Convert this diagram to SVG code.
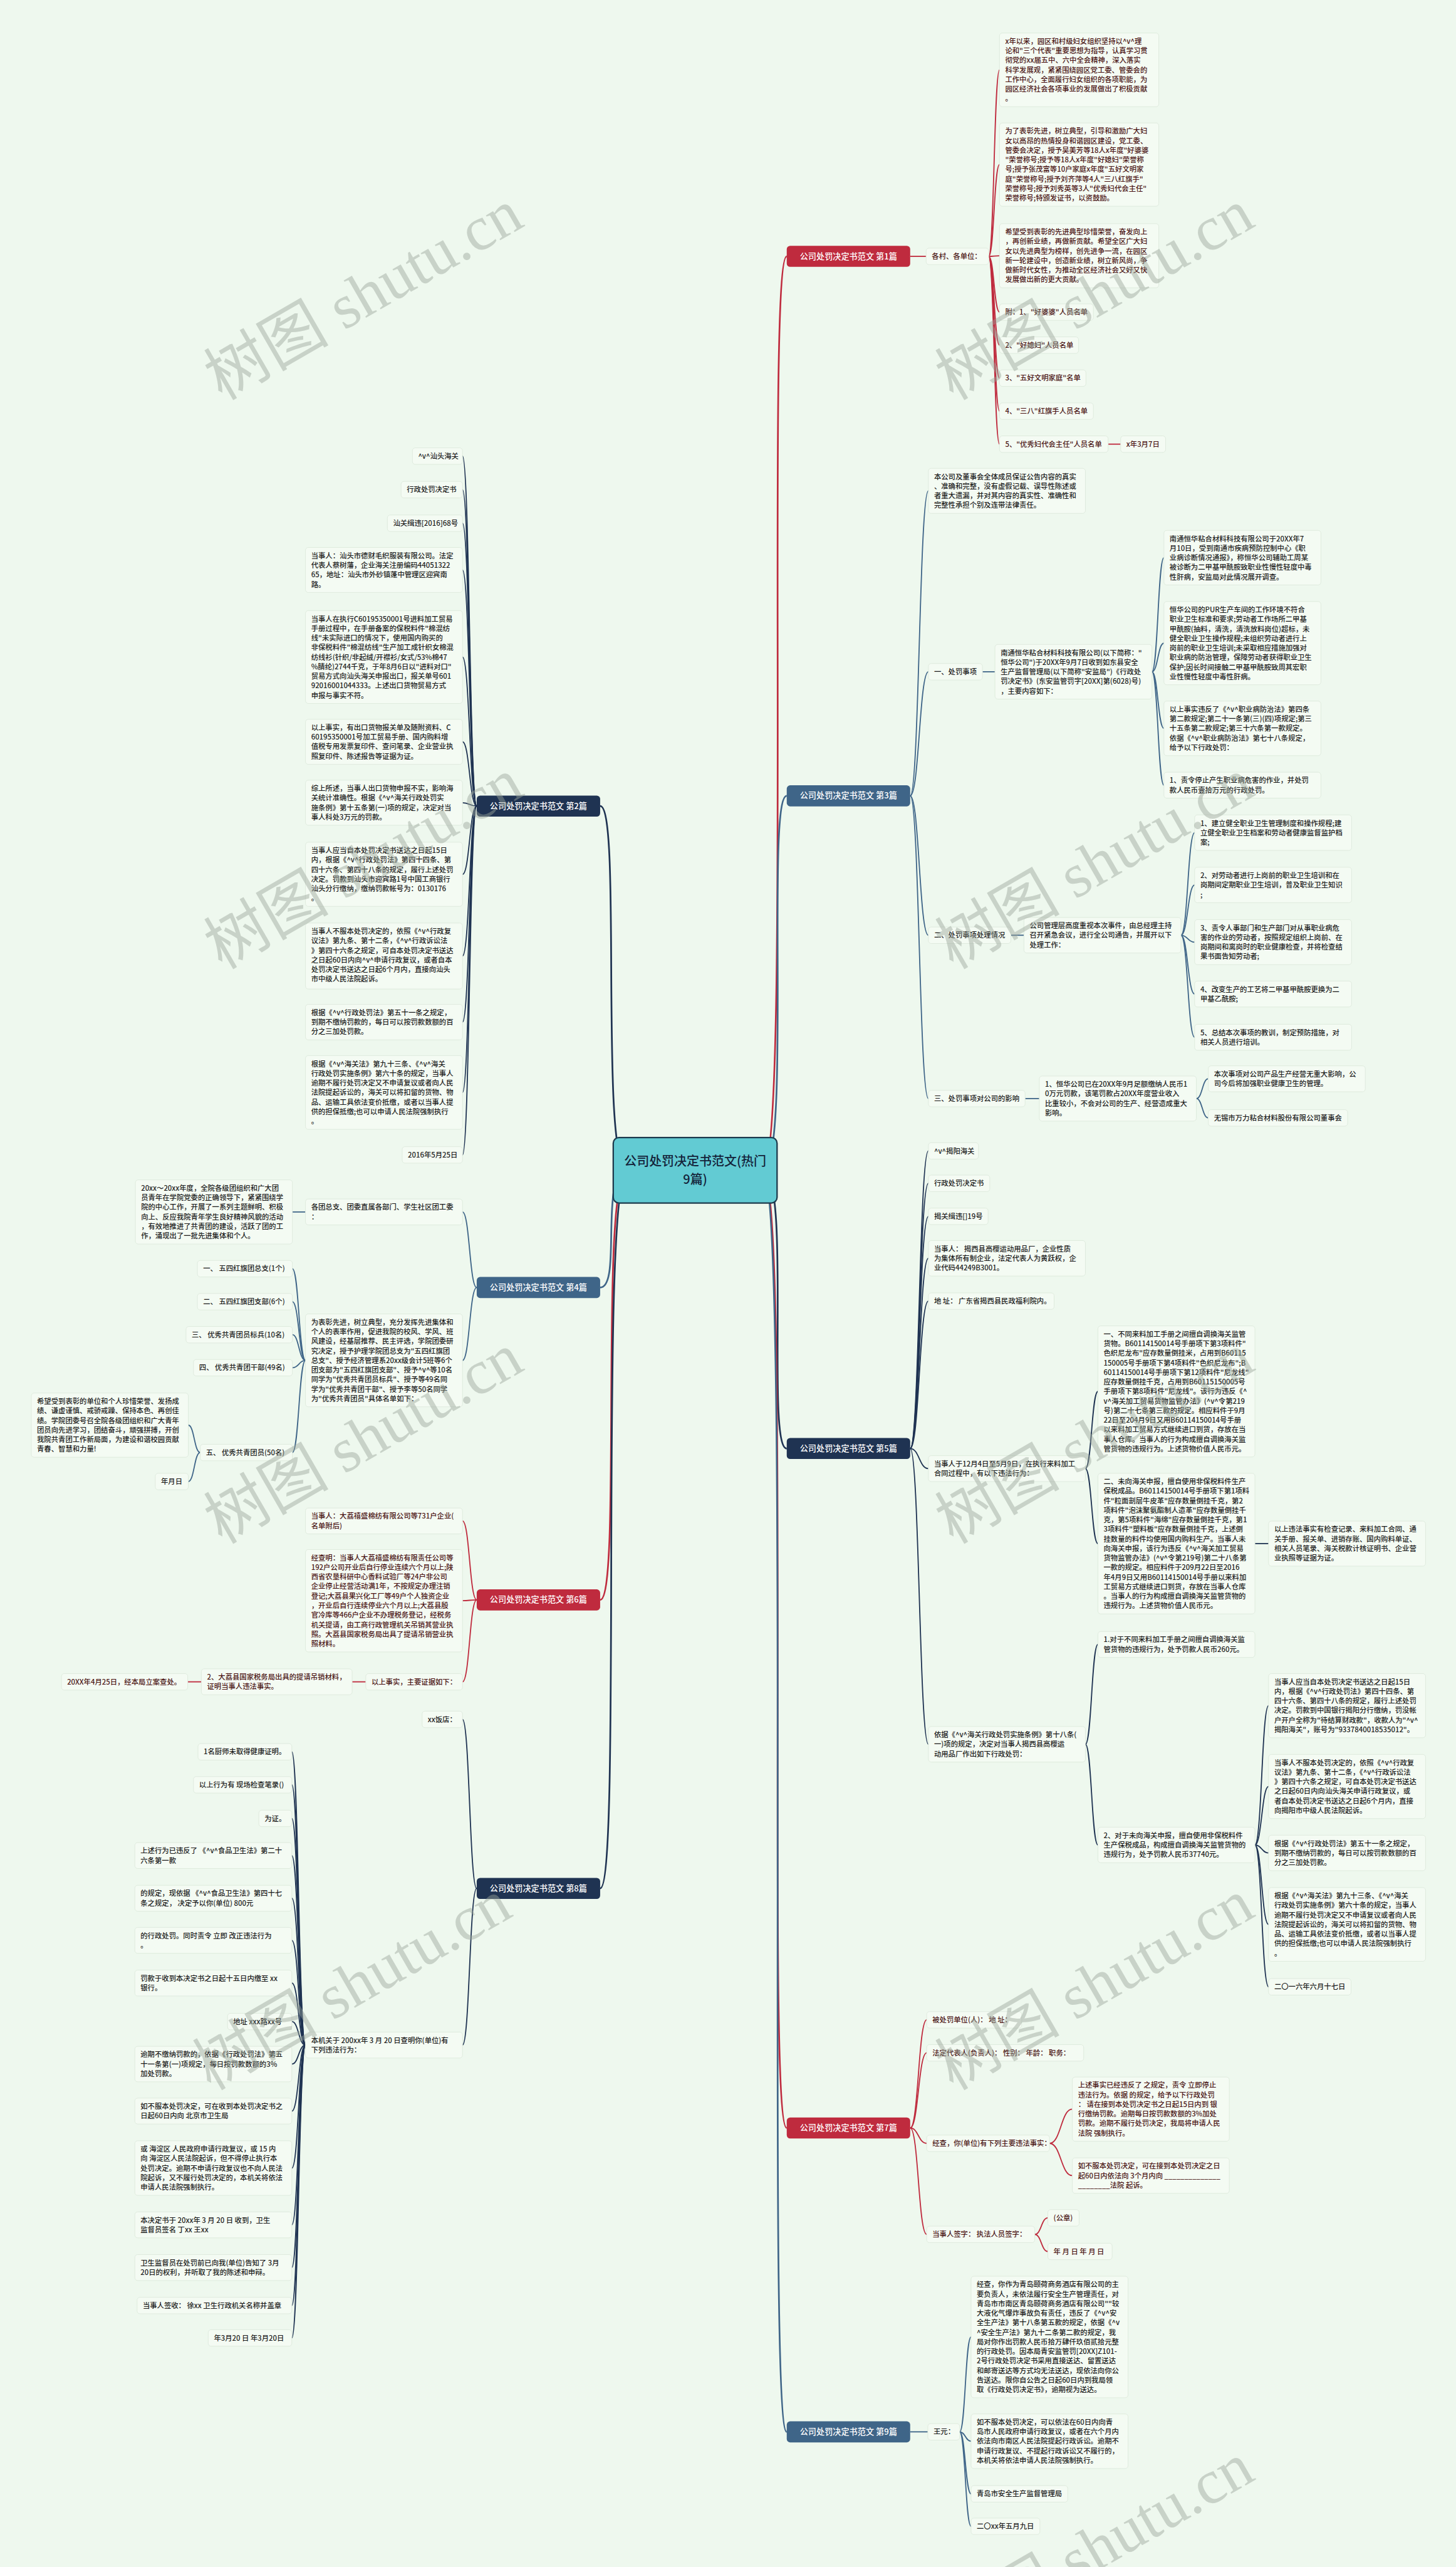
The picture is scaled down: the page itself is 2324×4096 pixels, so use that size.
<svg xmlns="http://www.w3.org/2000/svg" width="2324" height="4096" viewBox="0 0 2324 4096">
<style>
text{font-family:"Noto Sans CJK SC","Noto Sans",sans-serif}
.bx{fill:#f4fbf3;stroke:#dde9dc;stroke-width:1}
.t{font-size:12.5px;fill:#1c1c1c;font-weight:500}
.r{fill:#4a1414}
.bn{font-size:14.5px;fill:#ffffff;text-anchor:middle;font-weight:500}
.ct{font-size:22px;fill:#14233a;text-anchor:middle;font-weight:500}
.nr{fill:#bf2b3e}.nn{fill:#1f3352}.ns{fill:#3f6588}
.c path{fill:none;stroke-width:2}
.c .m{stroke-width:3}
.cr{stroke:#bf2b3e}.cn{stroke:#1f3352}.cs{stroke:#3f6588}
.wm{font-family:"Liberation Serif","Noto Sans CJK SC",serif;font-size:110px;fill:#9aa49a;fill-opacity:0.45;text-anchor:middle}
</style>
<rect width="2324" height="4096" fill="#eef8ee"/>
<g transform="scale(0.908)">
<g id="connectors" class="c">
<path class="m cr" d="M1340 2056.5C1392 2056.5 1346 450.5 1383 450.5"/>
<path class="m cs" d="M1340 2056.5C1392 2056.5 1346 1398.5 1383 1398.5"/>
<path class="m cn" d="M1340 2056.5C1392 2056.5 1346 2545.5 1383 2545.5"/>
<path class="m cr" d="M1340 2056.5C1392 2056.5 1346 3739.5 1383 3739.5"/>
<path class="m cs" d="M1340 2056.5C1392 2056.5 1346 4273.5 1383 4273.5"/>
<path class="m cn" d="M1104 2056.5C1052 2056.5 1094 1416.5 1055 1416.5"/>
<path class="m cs" d="M1104 2056.5C1052 2056.5 1094 2262.5 1055 2262.5"/>
<path class="m cr" d="M1104 2056.5C1052 2056.5 1094 2811.5 1055 2811.5"/>
<path class="m cn" d="M1104 2056.5C1052 2056.5 1094 3318.5 1055 3318.5"/>
<path class="cr" d="M1600 450.5L1628 450.5"/>
<path class="cr" d="M1738 450.5C1747.5 450.5 1747.5 122.8 1757 122.8"/>
<path class="cr" d="M1738 450.5C1747.5 450.5 1747.5 289.2 1757 289.2"/>
<path class="cr" d="M1738 450.5C1747.5 450.5 1747.5 449.4 1757 449.4"/>
<path class="cr" d="M1738 450.5C1747.5 450.5 1747.5 548.5 1757 548.5"/>
<path class="cr" d="M1738 450.5C1747.5 450.5 1747.5 606.5 1757 606.5"/>
<path class="cr" d="M1738 450.5C1747.5 450.5 1747.5 664.5 1757 664.5"/>
<path class="cr" d="M1738 450.5C1747.5 450.5 1747.5 722.5 1757 722.5"/>
<path class="cr" d="M1738 450.5C1747.5 450.5 1747.5 780.5 1757 780.5"/>
<path class="cr" d="M1948 780.5L1970 780.5"/>
<path class="cs" d="M1600 1398.5C1616 1398.5 1616 862.6 1632 862.6"/>
<path class="cs" d="M1600 1398.5C1616 1398.5 1616 1180.5 1632 1180.5"/>
<path class="cs" d="M1600 1398.5C1616 1398.5 1616 1643.5 1632 1643.5"/>
<path class="cs" d="M1600 1398.5C1616 1398.5 1616 1930.5 1632 1930.5"/>
<path class="cs" d="M1727 1180.5L1749 1180.5"/>
<path class="cs" d="M2025 1180.5C2035.5 1180.5 2035.5 980 2046 980"/>
<path class="cs" d="M2025 1180.5C2035.5 1180.5 2035.5 1130.2 2046 1130.2"/>
<path class="cs" d="M2025 1180.5C2035.5 1180.5 2035.5 1280 2046 1280"/>
<path class="cs" d="M2025 1180.5C2035.5 1180.5 2035.5 1379.8 2046 1379.8"/>
<path class="cs" d="M1777 1643.5L1800 1643.5"/>
<path class="cs" d="M2076 1643.5C2088 1643.5 2088 1463.2 2100 1463.2"/>
<path class="cs" d="M2076 1643.5C2088 1643.5 2088 1555.2 2100 1555.2"/>
<path class="cs" d="M2076 1643.5C2088 1643.5 2088 1655.6 2100 1655.6"/>
<path class="cs" d="M2076 1643.5C2088 1643.5 2088 1746.8 2100 1746.8"/>
<path class="cs" d="M2076 1643.5C2088 1643.5 2088 1822.8 2100 1822.8"/>
<path class="cs" d="M1802 1930.5L1827 1930.5"/>
<path class="cs" d="M2103 1930.5C2113.5 1930.5 2113.5 1895.8 2124 1895.8"/>
<path class="cs" d="M2103 1930.5C2113.5 1930.5 2113.5 1964.5 2124 1964.5"/>
<path class="cn" d="M1600 2545.5C1616 2545.5 1616 2022.5 1632 2022.5"/>
<path class="cn" d="M1600 2545.5C1616 2545.5 1616 2079.5 1632 2079.5"/>
<path class="cn" d="M1600 2545.5C1616 2545.5 1616 2137.5 1632 2137.5"/>
<path class="cn" d="M1600 2545.5C1616 2545.5 1616 2211.2 1632 2211.2"/>
<path class="cn" d="M1600 2545.5C1616 2545.5 1616 2286.5 1632 2286.5"/>
<path class="cn" d="M1600 2545.5C1616 2545.5 1616 2580.8 1632 2580.8"/>
<path class="cn" d="M1600 2545.5C1616 2545.5 1616 3065.2 1632 3065.2"/>
<path class="cn" d="M1908 2580.8C1919 2580.8 1919 2445.2 1930 2445.2"/>
<path class="cn" d="M1908 2580.8C1919 2580.8 1919 2712.6 1930 2712.6"/>
<path class="cn" d="M2206 2712.6L2230 2712.6"/>
<path class="cn" d="M1908 3065.2C1919 3065.2 1919 2889.8 1930 2889.8"/>
<path class="cn" d="M1908 3065.2C1919 3065.2 1919 3242.2 1930 3242.2"/>
<path class="cn" d="M2206 3242.2C2218 3242.2 2218 2997.4 2230 2997.4"/>
<path class="cn" d="M2206 3242.2C2218 3242.2 2218 3139.4 2230 3139.4"/>
<path class="cn" d="M2206 3242.2C2218 3242.2 2218 3256.2 2230 3256.2"/>
<path class="cn" d="M2206 3242.2C2218 3242.2 2218 3381.8 2230 3381.8"/>
<path class="cn" d="M2206 3242.2C2218 3242.2 2218 3491.5 2230 3491.5"/>
<path class="cr" d="M1600 3739.5C1614.5 3739.5 1614.5 3549.5 1629 3549.5"/>
<path class="cr" d="M1600 3739.5C1614.5 3739.5 1614.5 3607.5 1629 3607.5"/>
<path class="cr" d="M1600 3739.5C1614.5 3739.5 1614.5 3766.5 1629 3766.5"/>
<path class="cr" d="M1600 3739.5C1614.5 3739.5 1614.5 3926.5 1629 3926.5"/>
<path class="cr" d="M1845 3766.5C1865 3766.5 1865 3706.4 1885 3706.4"/>
<path class="cr" d="M1845 3766.5C1865 3766.5 1865 3823.2 1885 3823.2"/>
<path class="cr" d="M1819 3926.5C1830.5 3926.5 1830.5 3897.5 1842 3897.5"/>
<path class="cr" d="M1819 3926.5C1830.5 3926.5 1830.5 3956.5 1842 3956.5"/>
<path class="cs" d="M1600 4273.5L1631 4273.5"/>
<path class="cs" d="M1687 4273.5C1697 4273.5 1697 4106.8 1707 4106.8"/>
<path class="cs" d="M1687 4273.5C1697 4273.5 1697 4290 1707 4290"/>
<path class="cs" d="M1687 4273.5C1697 4273.5 1697 4382.5 1707 4382.5"/>
<path class="cs" d="M1687 4273.5C1697 4273.5 1697 4439.5 1707 4439.5"/>
<path class="cn" d="M838 1416.5C825.5 1416.5 825.5 801.5 813 801.5"/>
<path class="cn" d="M838 1416.5C825.5 1416.5 825.5 860.5 813 860.5"/>
<path class="cn" d="M838 1416.5C825.5 1416.5 825.5 919.5 813 919.5"/>
<path class="cn" d="M838 1416.5C825.5 1416.5 825.5 1001.6 813 1001.6"/>
<path class="cn" d="M838 1416.5C825.5 1416.5 825.5 1154.6 813 1154.6"/>
<path class="cn" d="M838 1416.5C825.5 1416.5 825.5 1303.6 813 1303.6"/>
<path class="cn" d="M838 1416.5C825.5 1416.5 825.5 1410.6 813 1410.6"/>
<path class="cn" d="M838 1416.5C825.5 1416.5 825.5 1536.4 813 1536.4"/>
<path class="cn" d="M838 1416.5C825.5 1416.5 825.5 1680 813 1680"/>
<path class="cn" d="M838 1416.5C825.5 1416.5 825.5 1796.2 813 1796.2"/>
<path class="cn" d="M838 1416.5C825.5 1416.5 825.5 1919.8 813 1919.8"/>
<path class="cn" d="M838 1416.5C825.5 1416.5 825.5 2029.5 813 2029.5"/>
<path class="cs" d="M838 2262.5C825.5 2262.5 825.5 2129.8 813 2129.8"/>
<path class="cs" d="M838 2262.5C825.5 2262.5 825.5 2390.6 813 2390.6"/>
<path class="cs" d="M537 2129.8L514 2129.8"/>
<path class="cs" d="M537 2390.6C525.5 2390.6 525.5 2229.5 514 2229.5"/>
<path class="cs" d="M537 2390.6C525.5 2390.6 525.5 2287.5 514 2287.5"/>
<path class="cs" d="M537 2390.6C525.5 2390.6 525.5 2345.5 514 2345.5"/>
<path class="cs" d="M537 2390.6C525.5 2390.6 525.5 2403.5 514 2403.5"/>
<path class="cs" d="M537 2390.6C525.5 2390.6 525.5 2552.5 514 2552.5"/>
<path class="cs" d="M352 2552.5C341.5 2552.5 341.5 2504.4 331 2504.4"/>
<path class="cs" d="M352 2552.5C341.5 2552.5 341.5 2603.5 331 2603.5"/>
<path class="cr" d="M838 2811.5C825.5 2811.5 825.5 2672.8 813 2672.8"/>
<path class="cr" d="M838 2811.5C825.5 2811.5 825.5 2813 813 2813"/>
<path class="cr" d="M838 2811.5C825.5 2811.5 825.5 2955.5 813 2955.5"/>
<path class="cr" d="M643 2955.5L619 2955.5"/>
<path class="cr" d="M354 2955.5L330 2955.5"/>
<path class="cn" d="M838 3318.5C825.5 3318.5 825.5 3021.5 813 3021.5"/>
<path class="cn" d="M838 3318.5C825.5 3318.5 825.5 3593.8 813 3593.8"/>
<path class="cn" d="M537 3593.8C525 3593.8 525 3078.5 513 3078.5"/>
<path class="cn" d="M537 3593.8C525 3593.8 525 3136.5 513 3136.5"/>
<path class="cn" d="M537 3593.8C525 3593.8 525 3195.5 513 3195.5"/>
<path class="cn" d="M537 3593.8C525 3593.8 525 3260.8 513 3260.8"/>
<path class="cn" d="M537 3593.8C525 3593.8 525 3335.8 513 3335.8"/>
<path class="cn" d="M537 3593.8C525 3593.8 525 3409.8 513 3409.8"/>
<path class="cn" d="M537 3593.8C525 3593.8 525 3484.8 513 3484.8"/>
<path class="cn" d="M537 3593.8C525 3593.8 525 3552.5 513 3552.5"/>
<path class="cn" d="M537 3593.8C525 3593.8 525 3627.2 513 3627.2"/>
<path class="cn" d="M537 3593.8C525 3593.8 525 3709.8 513 3709.8"/>
<path class="cn" d="M537 3593.8C525 3593.8 525 3810 513 3810"/>
<path class="cn" d="M537 3593.8C525 3593.8 525 3909.8 513 3909.8"/>
<path class="cn" d="M537 3593.8C525 3593.8 525 3984.8 513 3984.8"/>
<path class="cn" d="M537 3593.8C525 3593.8 525 4051.5 513 4051.5"/>
<path class="cn" d="M537 3593.8C525 3593.8 525 4108.5 513 4108.5"/>
</g>

<g id="center"><rect x="1078" y="1999" width="288" height="115" rx="10" fill="#62cbd3" stroke="#1d3a4c" stroke-width="2.5"/><text class="ct" x="1222" y="2049">公司处罚决定书范文(热门</text><text class="ct" x="1222" y="2080">9篇)</text></g>

<g id="branch1"><rect class="nr" x="1383" y="432" width="217" height="37" rx="6"/><text class="bn" x="1491.5" y="455.5">公司处罚决定书范文 第1篇</text></g>
<g id="branch2"><rect class="nn" x="838" y="1398" width="217" height="37" rx="6"/><text class="bn" x="946.5" y="1421.5">公司处罚决定书范文 第2篇</text></g>
<g id="branch3"><rect class="ns" x="1383" y="1380" width="217" height="37" rx="6"/><text class="bn" x="1491.5" y="1403.5">公司处罚决定书范文 第3篇</text></g>
<g id="branch4"><rect class="ns" x="838" y="2244" width="217" height="37" rx="6"/><text class="bn" x="946.5" y="2267.5">公司处罚决定书范文 第4篇</text></g>
<g id="branch5"><rect class="nn" x="1383" y="2527" width="217" height="37" rx="6"/><text class="bn" x="1491.5" y="2550.5">公司处罚决定书范文 第5篇</text></g>
<g id="branch6"><rect class="nr" x="838" y="2793" width="217" height="37" rx="6"/><text class="bn" x="946.5" y="2816.5">公司处罚决定书范文 第6篇</text></g>
<g id="branch7"><rect class="nr" x="1383" y="3721" width="217" height="37" rx="6"/><text class="bn" x="1491.5" y="3744.5">公司处罚决定书范文 第7篇</text></g>
<g id="branch8"><rect class="nn" x="838" y="3300" width="217" height="37" rx="6"/><text class="bn" x="946.5" y="3323.5">公司处罚决定书范文 第8篇</text></g>
<g id="branch9"><rect class="ns" x="1383" y="4255" width="217" height="37" rx="6"/><text class="bn" x="1491.5" y="4278.5">公司处罚决定书范文 第9篇</text></g>

<g id="n1-0"><rect class="bx" x="1628" y="436" width="110" height="29" rx="5"/><text class="t r" x="1638" y="455">各村、各单位：</text></g>
<g id="n1-1"><rect class="bx" x="1757" y="58" width="280" height="129.6" rx="5"/><text class="t r" x="1767" y="77"><tspan x="1767">x年以来，园区和村级妇女组织坚持以^v^理</tspan><tspan x="1767" dy="16.8">论和"三个代表"重要思想为指导，认真学习贯</tspan><tspan x="1767" dy="16.8">彻党的xx届五中、六中全会精神，深入落实</tspan><tspan x="1767" dy="16.8">科学发展观，紧紧围绕园区党工委、管委会的</tspan><tspan x="1767" dy="16.8">工作中心，全面履行妇女组织的各项职能，为</tspan><tspan x="1767" dy="16.8">园区经济社会各项事业的发展做出了积极贡献</tspan><tspan x="1767" dy="16.8">。</tspan></text></g>
<g id="n1-2"><rect class="bx" x="1757" y="216" width="280" height="146.4" rx="5"/><text class="t r" x="1767" y="235"><tspan x="1767">为了表彰先进，树立典型，引导和激励广大妇</tspan><tspan x="1767" dy="16.8">女以高昂的热情投身和谐园区建设，党工委、</tspan><tspan x="1767" dy="16.8">管委会决定，授予吴美芳等18人x年度"好婆婆</tspan><tspan x="1767" dy="16.8">"荣誉称号;授予等18人x年度"好媳妇"荣誉称</tspan><tspan x="1767" dy="16.8">号;授予张茂富等10户家庭x年度"五好文明家</tspan><tspan x="1767" dy="16.8">庭"荣誉称号;授予刘齐萍等4人"三八红旗手"</tspan><tspan x="1767" dy="16.8">荣誉称号;授予刘秀英等3人"优秀妇代会主任"</tspan><tspan x="1767" dy="16.8">荣誉称号;特颁发证书，以资鼓励。</tspan></text></g>
<g id="n1-3"><rect class="bx" x="1757" y="393" width="280" height="112.8" rx="5"/><text class="t r" x="1767" y="412"><tspan x="1767">希望受到表彰的先进典型珍惜荣誉，奋发向上</tspan><tspan x="1767" dy="16.8">，再创新业绩，再做新贡献。希望全区广大妇</tspan><tspan x="1767" dy="16.8">女以先进典型为榜样，创先进争一流，在园区</tspan><tspan x="1767" dy="16.8">新一轮建设中，创造新业绩，树立新风尚，争</tspan><tspan x="1767" dy="16.8">做新时代女性，为推动全区经济社会又好又快</tspan><tspan x="1767" dy="16.8">发展做出新的更大贡献。</tspan></text></g>
<g id="n1-4"><rect class="bx" x="1757" y="534" width="165" height="29" rx="5"/><text class="t r" x="1767" y="553">附：1、"好婆婆"人员名单</text></g>
<g id="n1-5"><rect class="bx" x="1757" y="592" width="139" height="29" rx="5"/><text class="t r" x="1767" y="611">2、"好媳妇"人员名单</text></g>
<g id="n1-6"><rect class="bx" x="1757" y="650" width="152" height="29" rx="5"/><text class="t r" x="1767" y="669">3、"五好文明家庭"名单</text></g>
<g id="n1-7"><rect class="bx" x="1757" y="708" width="165" height="29" rx="5"/><text class="t r" x="1767" y="727">4、"三八"红旗手人员名单</text></g>
<g id="n1-8"><rect class="bx" x="1757" y="766" width="191" height="29" rx="5"/><text class="t r" x="1767" y="785">5、"优秀妇代会主任"人员名单</text></g>
<g id="n1-9"><rect class="bx" x="1970" y="766" width="79" height="29" rx="5"/><text class="t r" x="1980" y="785">x年3月7日</text></g>

<g id="n3-a"><rect class="bx" x="1632" y="823" width="276" height="79.2" rx="5"/><text class="t" x="1642" y="842"><tspan x="1642">本公司及董事会全体成员保证公告内容的真实</tspan><tspan x="1642" dy="16.8">、准确和完整，没有虚假记载、误导性陈述或</tspan><tspan x="1642" dy="16.8">者重大遗漏，并对其内容的真实性、准确性和</tspan><tspan x="1642" dy="16.8">完整性承担个别及连带法律责任。</tspan></text></g>
<g id="n3-b"><rect class="bx" x="1632" y="1166" width="95" height="29" rx="5"/><text class="t" x="1642" y="1185">一、处罚事项</text></g>
<g id="n3-c"><rect class="bx" x="1749" y="1132.5" width="276" height="96" rx="5"/><text class="t" x="1759" y="1151.5"><tspan x="1759">南通恒华粘合材料科技有限公司(以下简称："</tspan><tspan x="1759" dy="16.8">恒华公司")于20XX年9月7日收到如东县安全</tspan><tspan x="1759" dy="16.8">生产监督管理局(以下简称"安监局")《行政处</tspan><tspan x="1759" dy="16.8">罚决定书》(东安监管罚字[20XX]第(6028)号)</tspan><tspan x="1759" dy="16.8">，主要内容如下：</tspan></text></g>
<g id="n3-c1"><rect class="bx" x="2046" y="932" width="276" height="96" rx="5"/><text class="t" x="2056" y="951"><tspan x="2056">南通恒华粘合材料科技有限公司于20XX年7</tspan><tspan x="2056" dy="16.8">月10日，受到南通市疾病预防控制中心《职</tspan><tspan x="2056" dy="16.8">业病诊断情况通报》，称恒华公司辅助工周某</tspan><tspan x="2056" dy="16.8">被诊断为二甲基甲酰胺致职业性慢性轻度中毒</tspan><tspan x="2056" dy="16.8">性肝病，安监局对此情况展开调查。</tspan></text></g>
<g id="n3-c2"><rect class="bx" x="2046" y="1057" width="276" height="146.4" rx="5"/><text class="t" x="2056" y="1076"><tspan x="2056">恒华公司的PUR生产车间的工作环境不符合</tspan><tspan x="2056" dy="16.8">职业卫生标准和要求;劳动者工作场所二甲基</tspan><tspan x="2056" dy="16.8">甲酰胺(抽料，清洗，清洗放料岗位)超标，未</tspan><tspan x="2056" dy="16.8">健全职业卫生操作规程;未组织劳动者进行上</tspan><tspan x="2056" dy="16.8">岗前的职业卫生培训;未采取相应措施加强对</tspan><tspan x="2056" dy="16.8">职业病的防治管理，保障劳动者获得职业卫生</tspan><tspan x="2056" dy="16.8">保护;因长时间接触二甲基甲酰胺致周其宏职</tspan><tspan x="2056" dy="16.8">业性慢性轻度中毒性肝病。</tspan></text></g>
<g id="n3-c3"><rect class="bx" x="2046" y="1232" width="276" height="96" rx="5"/><text class="t" x="2056" y="1251"><tspan x="2056">以上事实违反了《^v^职业病防治法》第四条</tspan><tspan x="2056" dy="16.8">第二款规定;第二十一条第(三)(四)项规定;第三</tspan><tspan x="2056" dy="16.8">十五条第二款规定;第三十六条第一款规定。</tspan><tspan x="2056" dy="16.8">依据《^v^职业病防治法》第七十八条规定，</tspan><tspan x="2056" dy="16.8">给予以下行政处罚：</tspan></text></g>
<g id="n3-c4"><rect class="bx" x="2046" y="1357" width="276" height="45.6" rx="5"/><text class="t" x="2056" y="1376"><tspan x="2056">1、责令停止产生职业病危害的作业，并处罚</tspan><tspan x="2056" dy="16.8">款人民币壹拾万元的行政处罚。</tspan></text></g>
<g id="n3-d"><rect class="bx" x="1632" y="1629" width="145" height="29" rx="5"/><text class="t" x="1642" y="1648">二、处罚事项处理情况</text></g>
<g id="n3-e"><rect class="bx" x="1800" y="1612.3" width="276" height="62.4" rx="5"/><text class="t" x="1810" y="1631.3"><tspan x="1810">公司管理层高度重视本次事件，由总经理主持</tspan><tspan x="1810" dy="16.8">召开紧急会议，进行全公司通告，并展开以下</tspan><tspan x="1810" dy="16.8">处理工作：</tspan></text></g>
<g id="n3-e1"><rect class="bx" x="2100" y="1432" width="276" height="62.4" rx="5"/><text class="t" x="2110" y="1451"><tspan x="2110">1、建立健全职业卫生管理制度和操作规程;建</tspan><tspan x="2110" dy="16.8">立健全职业卫生档案和劳动者健康监督监护档</tspan><tspan x="2110" dy="16.8">案;</tspan></text></g>
<g id="n3-e2"><rect class="bx" x="2100" y="1524" width="276" height="62.4" rx="5"/><text class="t" x="2110" y="1543"><tspan x="2110">2、对劳动者进行上岗前的职业卫生培训和在</tspan><tspan x="2110" dy="16.8">岗期间定期职业卫生培训，普及职业卫生知识</tspan><tspan x="2110" dy="16.8">;</tspan></text></g>
<g id="n3-e3"><rect class="bx" x="2100" y="1616" width="276" height="79.2" rx="5"/><text class="t" x="2110" y="1635"><tspan x="2110">3、责令人事部门和生产部门对从事职业病危</tspan><tspan x="2110" dy="16.8">害的作业的劳动者，按照规定组织上岗前、在</tspan><tspan x="2110" dy="16.8">岗期间和离岗时的职业健康检查，并将检查结</tspan><tspan x="2110" dy="16.8">果书面告知劳动者;</tspan></text></g>
<g id="n3-e4"><rect class="bx" x="2100" y="1724" width="276" height="45.6" rx="5"/><text class="t" x="2110" y="1743"><tspan x="2110">4、改变生产的工艺将二甲基甲酰胺更换为二</tspan><tspan x="2110" dy="16.8">甲基乙酰胺;</tspan></text></g>
<g id="n3-e5"><rect class="bx" x="2100" y="1800" width="276" height="45.6" rx="5"/><text class="t" x="2110" y="1819"><tspan x="2110">5、总结本次事项的教训，制定预防措施，对</tspan><tspan x="2110" dy="16.8">相关人员进行培训。</tspan></text></g>
<g id="n3-f"><rect class="bx" x="1632" y="1916" width="170" height="29" rx="5"/><text class="t" x="1642" y="1935">三、处罚事项对公司的影响</text></g>
<g id="n3-g"><rect class="bx" x="1827" y="1890.9" width="276" height="79.2" rx="5"/><text class="t" x="1837" y="1909.9"><tspan x="1837">1、恒华公司已在20XX年9月足额缴纳人民币1</tspan><tspan x="1837" dy="16.8">0万元罚款，该笔罚款占20XX年度营业收入</tspan><tspan x="1837" dy="16.8">比重较小，不会对公司的生产、经营造成重大</tspan><tspan x="1837" dy="16.8">影响。</tspan></text></g>
<g id="n3-g1"><rect class="bx" x="2124" y="1873" width="276" height="45.6" rx="5"/><text class="t" x="2134" y="1892"><tspan x="2134">本次事项对公司产品生产经营无重大影响，公</tspan><tspan x="2134" dy="16.8">司今后将加强职业健康卫生的管理。</tspan></text></g>
<g id="n3-g2"><rect class="bx" x="2124" y="1950" width="245" height="29" rx="5"/><text class="t" x="2134" y="1969">无锡市万力粘合材料股份有限公司董事会</text></g>

<g id="n5-a"><rect class="bx" x="1632" y="2008" width="88" height="29" rx="5"/><text class="t" x="1642" y="2027">^v^揭阳海关</text></g>
<g id="n5-b"><rect class="bx" x="1632" y="2065" width="108" height="29" rx="5"/><text class="t" x="1642" y="2084">行政处罚决定书</text></g>
<g id="n5-c"><rect class="bx" x="1632" y="2123" width="105" height="29" rx="5"/><text class="t" x="1642" y="2142">揭关缉违[]19号</text></g>
<g id="n5-d"><rect class="bx" x="1632" y="2180" width="276" height="62.4" rx="5"/><text class="t" x="1642" y="2199"><tspan x="1642">当事人：  揭西县高樱运动用品厂，企业性质</tspan><tspan x="1642" dy="16.8">为集体所有制企业，法定代表人为黄跃权，企</tspan><tspan x="1642" dy="16.8">业代码44249B3001。</tspan></text></g>
<g id="n5-e"><rect class="bx" x="1632" y="2272" width="221" height="29" rx="5"/><text class="t" x="1642" y="2291">地  址：  广东省揭西县民政福利院内。</text></g>
<g id="n5-f"><rect class="bx" x="1632" y="2558" width="276" height="45.6" rx="5"/><text class="t" x="1642" y="2577"><tspan x="1642">当事人于12月4日至5月9日，在执行来料加工</tspan><tspan x="1642" dy="16.8">合同过程中，有以下违法行为：</tspan></text></g>
<g id="n5-f1"><rect class="bx" x="1930" y="2330" width="276" height="230.4" rx="5"/><text class="t" x="1940" y="2349"><tspan x="1940">一、不同来料加工手册之间擅自调换海关监管</tspan><tspan x="1940" dy="16.8">货物。B60114150014号手册项下第3项料件"</tspan><tspan x="1940" dy="16.8">色织尼龙布"应存数量倒挂米，占用到B60115</tspan><tspan x="1940" dy="16.8">150005号手册项下第4项料件"色织尼龙布";B</tspan><tspan x="1940" dy="16.8">60114150014号手册项下第12项料件"尼龙线"</tspan><tspan x="1940" dy="16.8">应存数量倒挂千克，占用到B60115150005号</tspan><tspan x="1940" dy="16.8">手册项下第8项料件"尼龙线"。该行为违反《^</tspan><tspan x="1940" dy="16.8">v^海关加工贸易货物监管办法》(^v^令第219</tspan><tspan x="1940" dy="16.8">号)第二十七条第三款的规定。相应料件于9月</tspan><tspan x="1940" dy="16.8">22日至204月9日又用B60114150014号手册</tspan><tspan x="1940" dy="16.8">以来料加工贸易方式继续进口到货，存放在当</tspan><tspan x="1940" dy="16.8">事人仓库。当事人的行为构成擅自调换海关监</tspan><tspan x="1940" dy="16.8">管货物的违规行为。上述货物价值人民币元。</tspan></text></g>
<g id="n5-f2"><rect class="bx" x="1930" y="2589" width="276" height="247.2" rx="5"/><text class="t" x="1940" y="2608"><tspan x="1940">二、未向海关申报，擅自使用非保税料件生产</tspan><tspan x="1940" dy="16.8">保税成品。B60114150014号手册项下第1项料</tspan><tspan x="1940" dy="16.8">件"粒面剖层牛皮革"应存数量倒挂千克，第2</tspan><tspan x="1940" dy="16.8">项料件"泡沫聚氨酯制人造革"应存数量倒挂千</tspan><tspan x="1940" dy="16.8">克，第5项料件"海绵"应存数量倒挂千克，第1</tspan><tspan x="1940" dy="16.8">3项料件"塑料板"应存数量倒挂千克，上述倒</tspan><tspan x="1940" dy="16.8">挂数量的料件均使用国内购料生产。当事人未</tspan><tspan x="1940" dy="16.8">向海关申报，该行为违反《^v^海关加工贸易</tspan><tspan x="1940" dy="16.8">货物监管办法》(^v^令第219号)第二十八条第</tspan><tspan x="1940" dy="16.8">一款的规定。相应料件于209月22日至2016</tspan><tspan x="1940" dy="16.8">年4月9日又用B60114150014号手册以来料加</tspan><tspan x="1940" dy="16.8">工贸易方式继续进口到货，存放在当事人仓库</tspan><tspan x="1940" dy="16.8">。当事人的行为构成擅自调换海关监管货物的</tspan><tspan x="1940" dy="16.8">违规行为。上述货物价值人民币元。</tspan></text></g>
<g id="n5-f2c"><rect class="bx" x="2230" y="2673" width="276" height="79.2" rx="5"/><text class="t" x="2240" y="2692"><tspan x="2240">以上违法事实有检查记录、来料加工合同、通</tspan><tspan x="2240" dy="16.8">关手册、报关单、进销存账、国内购料单证、</tspan><tspan x="2240" dy="16.8">相关人员笔录、海关税款计核证明书、企业营</tspan><tspan x="2240" dy="16.8">业执照等证据为证。</tspan></text></g>
<g id="n5-g"><rect class="bx" x="1632" y="3034" width="276" height="62.4" rx="5"/><text class="t" x="1642" y="3053"><tspan x="1642">依据《^v^海关行政处罚实施条例》第十八条(</tspan><tspan x="1642" dy="16.8">一)项的规定，决定对当事人揭西县高樱运</tspan><tspan x="1642" dy="16.8">动用品厂作出如下行政处罚：</tspan></text></g>
<g id="n5-g1"><rect class="bx" x="1930" y="2867" width="276" height="45.6" rx="5"/><text class="t" x="1940" y="2886"><tspan x="1940">1.对于不同来料加工手册之间擅自调换海关监</tspan><tspan x="1940" dy="16.8">管货物的违规行为，处予罚款人民币260元。</tspan></text></g>
<g id="n5-g2"><rect class="bx" x="1930" y="3211" width="276" height="62.4" rx="5"/><text class="t" x="1940" y="3230"><tspan x="1940">2、对于未向海关申报，擅自使用非保税料件</tspan><tspan x="1940" dy="16.8">生产保税成品，构成擅自调换海关监管货物的</tspan><tspan x="1940" dy="16.8">违规行为，处予罚款人民币37740元。</tspan></text></g>
<g id="n5-g2a"><rect class="bx" x="2230" y="2941" width="276" height="112.8" rx="5"/><text class="t" x="2240" y="2960"><tspan x="2240">当事人应当自本处罚决定书送达之日起15日</tspan><tspan x="2240" dy="16.8">内，根据《^v^行政处罚法》第四十四条、第</tspan><tspan x="2240" dy="16.8">四十六条、第四十八条的规定，履行上述处罚</tspan><tspan x="2240" dy="16.8">决定。罚款到中国银行揭阳分行缴纳，罚没帐</tspan><tspan x="2240" dy="16.8">户开户全称为"待结算财政款"，收款人为"^v^</tspan><tspan x="2240" dy="16.8">揭阳海关"，账号为"9337840018535012"。</tspan></text></g>
<g id="n5-g2b"><rect class="bx" x="2230" y="3083" width="276" height="112.8" rx="5"/><text class="t" x="2240" y="3102"><tspan x="2240">当事人不服本处罚决定的，依照《^v^行政复</tspan><tspan x="2240" dy="16.8">议法》第九条、第十二条，《^v^行政诉讼法</tspan><tspan x="2240" dy="16.8">》第四十六条之规定，可自本处罚决定书送达</tspan><tspan x="2240" dy="16.8">之日起60日内向汕头海关申请行政复议，或</tspan><tspan x="2240" dy="16.8">者自本处罚决定书送达之日起6个月内，直接</tspan><tspan x="2240" dy="16.8">向揭阳市中级人民法院起诉。</tspan></text></g>
<g id="n5-g2c"><rect class="bx" x="2230" y="3225" width="276" height="62.4" rx="5"/><text class="t" x="2240" y="3244"><tspan x="2240">根据《^v^行政处罚法》第五十一条之规定，</tspan><tspan x="2240" dy="16.8">到期不缴纳罚款的，每日可以按罚款数额的百</tspan><tspan x="2240" dy="16.8">分之三加处罚款。</tspan></text></g>
<g id="n5-g2d"><rect class="bx" x="2230" y="3317" width="276" height="129.6" rx="5"/><text class="t" x="2240" y="3336"><tspan x="2240">根据《^v^海关法》第九十三条、《^v^海关</tspan><tspan x="2240" dy="16.8">行政处罚实施条例》第六十条的规定，当事人</tspan><tspan x="2240" dy="16.8">逾期不履行处罚决定又不申请复议或者向人民</tspan><tspan x="2240" dy="16.8">法院提起诉讼的，海关可以将扣留的货物、物</tspan><tspan x="2240" dy="16.8">品、运输工具依法变价抵缴，或者以当事人提</tspan><tspan x="2240" dy="16.8">供的担保抵缴;也可以申请人民法院强制执行</tspan><tspan x="2240" dy="16.8">。</tspan></text></g>
<g id="n5-g2e"><rect class="bx" x="2230" y="3477" width="145" height="29" rx="5"/><text class="t" x="2240" y="3496">二〇一六年六月十七日</text></g>

<g id="n7-a"><rect class="bx" x="1629" y="3535" width="167" height="29" rx="5"/><text class="t r" x="1639" y="3554">被处罚单位(人)：  地  址：</text></g>
<g id="n7-b"><rect class="bx" x="1629" y="3593" width="276" height="29" rx="5"/><text class="t r" x="1639" y="3612">法定代表人(负责人)：  性别：  年龄：  职务：</text></g>
<g id="n7-c"><rect class="bx" x="1629" y="3752" width="216" height="29" rx="5"/><text class="t r" x="1639" y="3771">经查，你(单位)有下列主要违法事实：</text></g>
<g id="n7-c1"><rect class="bx" x="1885" y="3650" width="276" height="112.8" rx="5"/><text class="t r" x="1895" y="3669"><tspan x="1895">上述事实已经违反了 之规定，责令 立即停止</tspan><tspan x="1895" dy="16.8">违法行为。依据 的规定，给予以下行政处罚</tspan><tspan x="1895" dy="16.8">：  请在接到本处罚决定书之日起15日内到 银</tspan><tspan x="1895" dy="16.8">行缴纳罚款。逾期每日按罚款数额的3%加处</tspan><tspan x="1895" dy="16.8">罚款。逾期不履行处罚决定，我局将申请人民</tspan><tspan x="1895" dy="16.8">法院 强制执行。</tspan></text></g>
<g id="n7-c2"><rect class="bx" x="1885" y="3792" width="276" height="62.4" rx="5"/><text class="t r" x="1895" y="3811"><tspan x="1895">如不服本处罚决定，可在接到本处罚决定之日</tspan><tspan x="1895" dy="16.8">起60日内依法向 3个月内向 ______________</tspan><tspan x="1895" dy="16.8">________法院 起诉。</tspan></text></g>
<g id="n7-d"><rect class="bx" x="1629" y="3912" width="190" height="29" rx="5"/><text class="t r" x="1639" y="3931">当事人签字：  执法人员签字：</text></g>
<g id="n7-d1"><rect class="bx" x="1842" y="3883" width="55" height="29" rx="5"/><text class="t r" x="1852" y="3902">(公章)</text></g>
<g id="n7-d2"><rect class="bx" x="1842" y="3942" width="113" height="29" rx="5"/><text class="t r" x="1852" y="3961">年 月 日 年 月 日</text></g>

<g id="n9-w"><rect class="bx" x="1631" y="4259" width="56" height="29" rx="5"/><text class="t" x="1641" y="4278">王元：</text></g>
<g id="n9-a"><rect class="bx" x="1707" y="4000" width="276" height="213.6" rx="5"/><text class="t" x="1717" y="4019"><tspan x="1717">经查，你作为青岛颐荷商务酒店有限公司的主</tspan><tspan x="1717" dy="16.8">要负责人，未依法履行安全生产管理责任，对</tspan><tspan x="1717" dy="16.8">青岛市市南区青岛颐荷商务酒店有限公司""较</tspan><tspan x="1717" dy="16.8">大液化气爆炸事故负有责任，违反了《^v^安</tspan><tspan x="1717" dy="16.8">全生产法》第十八条第五款的规定，依据《^v</tspan><tspan x="1717" dy="16.8">^安全生产法》第九十二条第二款的规定，我</tspan><tspan x="1717" dy="16.8">局对你作出罚款人民币拾万肆仟玖佰贰拾元整</tspan><tspan x="1717" dy="16.8">的行政处罚。因本局青安监管罚[20XX]Z101-</tspan><tspan x="1717" dy="16.8">2号行政处罚决定书采用直接送达、留置送达</tspan><tspan x="1717" dy="16.8">和邮寄送达等方式均无法送达，现依法向你公</tspan><tspan x="1717" dy="16.8">告送达。限你自公告之日起60日内到我局领</tspan><tspan x="1717" dy="16.8">取《行政处罚决定书》，逾期视为送达。</tspan></text></g>
<g id="n9-b"><rect class="bx" x="1707" y="4242" width="276" height="96" rx="5"/><text class="t" x="1717" y="4261"><tspan x="1717">如不服本处罚决定，可以依法在60日内向青</tspan><tspan x="1717" dy="16.8">岛市人民政府申请行政复议，或者在六个月内</tspan><tspan x="1717" dy="16.8">依法向市南区人民法院提起行政诉讼。逾期不</tspan><tspan x="1717" dy="16.8">申请行政复议、不提起行政诉讼又不履行的，</tspan><tspan x="1717" dy="16.8">本机关将依法申请人民法院强制执行。</tspan></text></g>
<g id="n9-c"><rect class="bx" x="1707" y="4368" width="170" height="29" rx="5"/><text class="t" x="1717" y="4387">青岛市安全生产监督管理局</text></g>
<g id="n9-d"><rect class="bx" x="1707" y="4425" width="121" height="29" rx="5"/><text class="t" x="1717" y="4444">二〇xx年五月九日</text></g>

<g id="n2-a"><rect class="bx" x="725" y="787" width="88" height="29" rx="5"/><text class="t" x="735" y="806">^v^汕头海关</text></g>
<g id="n2-b"><rect class="bx" x="705" y="846" width="108" height="29" rx="5"/><text class="t" x="715" y="865">行政处罚决定书</text></g>
<g id="n2-c"><rect class="bx" x="681" y="905" width="132" height="29" rx="5"/><text class="t" x="691" y="924">汕关缉违[2016]68号</text></g>
<g id="n2-d"><rect class="bx" x="537" y="962" width="276" height="79.2" rx="5"/><text class="t" x="547" y="981"><tspan x="547">当事人：汕头市德财毛织服装有限公司。法定</tspan><tspan x="547" dy="16.8">代表人蔡树藩，企业海关注册编码44051322</tspan><tspan x="547" dy="16.8">65，地址：汕头市外砂镇蓬中管理区迎宾南</tspan><tspan x="547" dy="16.8">路。</tspan></text></g>
<g id="n2-e"><rect class="bx" x="537" y="1073" width="276" height="163.2" rx="5"/><text class="t" x="547" y="1092"><tspan x="547">当事人在执行C60195350001号进料加工贸易</tspan><tspan x="547" dy="16.8">手册过程中，在手册备案的保税料件"棉混纺</tspan><tspan x="547" dy="16.8">线"未实际进口的情况下，使用国内购买的</tspan><tspan x="547" dy="16.8">非保税料件"棉混纺线"生产加工成针织女棉混</tspan><tspan x="547" dy="16.8">纺线衫(针织/非起绒/开襟衫/女式/53%棉47</tspan><tspan x="547" dy="16.8">%腈纶)2744千克，于年8月6日以"进料对口"</tspan><tspan x="547" dy="16.8">贸易方式向汕头海关申报出口，报关单号601</tspan><tspan x="547" dy="16.8">92016001044333。上述出口货物贸易方式</tspan><tspan x="547" dy="16.8">申报与事实不符。</tspan></text></g>
<g id="n2-f"><rect class="bx" x="537" y="1264" width="276" height="79.2" rx="5"/><text class="t" x="547" y="1283"><tspan x="547">以上事实，有出口货物报关单及随附资料、C</tspan><tspan x="547" dy="16.8">60195350001号加工贸易手册、国内购料增</tspan><tspan x="547" dy="16.8">值税专用发票复印件、查问笔录、企业营业执</tspan><tspan x="547" dy="16.8">照复印件、陈述报告等证据为证。</tspan></text></g>
<g id="n2-g"><rect class="bx" x="537" y="1371" width="276" height="79.2" rx="5"/><text class="t" x="547" y="1390"><tspan x="547">综上所述，当事人出口货物申报不实，影响海</tspan><tspan x="547" dy="16.8">关统计准确性。根据《^v^海关行政处罚实</tspan><tspan x="547" dy="16.8">施条例》第十五条第(一)项的规定，决定对当</tspan><tspan x="547" dy="16.8">事人科处3万元的罚款。</tspan></text></g>
<g id="n2-h"><rect class="bx" x="537" y="1480" width="276" height="112.8" rx="5"/><text class="t" x="547" y="1499"><tspan x="547">当事人应当自本处罚决定书送达之日起15日</tspan><tspan x="547" dy="16.8">内，根据《^v^行政处罚法》第四十四条、第</tspan><tspan x="547" dy="16.8">四十六条、第四十八条的规定，履行上述处罚</tspan><tspan x="547" dy="16.8">决定。罚款到汕头市迎宾路1号中国工商银行</tspan><tspan x="547" dy="16.8">汕头分行缴纳，缴纳罚款帐号为：0130176</tspan><tspan x="547" dy="16.8">。</tspan></text></g>
<g id="n2-i"><rect class="bx" x="537" y="1622" width="276" height="116" rx="5"/><text class="t" x="547" y="1641"><tspan x="547">当事人不服本处罚决定的，依照《^v^行政复</tspan><tspan x="547" dy="16.8">议法》第九条、第十二条，《^v^行政诉讼法</tspan><tspan x="547" dy="16.8">》第四十六条之规定，可自本处罚决定书送达</tspan><tspan x="547" dy="16.8">之日起60日内向^v^申请行政复议，或者自本</tspan><tspan x="547" dy="16.8">处罚决定书送达之日起6个月内，直接向汕头</tspan><tspan x="547" dy="16.8">市中级人民法院起诉。</tspan></text></g>
<g id="n2-j"><rect class="bx" x="537" y="1765" width="276" height="62.4" rx="5"/><text class="t" x="547" y="1784"><tspan x="547">根据《^v^行政处罚法》第五十一条之规定，</tspan><tspan x="547" dy="16.8">到期不缴纳罚款的，每日可以按罚款数额的百</tspan><tspan x="547" dy="16.8">分之三加处罚款。</tspan></text></g>
<g id="n2-k"><rect class="bx" x="537" y="1855" width="276" height="129.6" rx="5"/><text class="t" x="547" y="1874"><tspan x="547">根据《^v^海关法》第九十三条、《^v^海关</tspan><tspan x="547" dy="16.8">行政处罚实施条例》第六十条的规定，当事人</tspan><tspan x="547" dy="16.8">逾期不履行处罚决定又不申请复议或者向人民</tspan><tspan x="547" dy="16.8">法院提起诉讼的，海关可以将扣留的货物、物</tspan><tspan x="547" dy="16.8">品、运输工具依法变价抵缴，或者以当事人提</tspan><tspan x="547" dy="16.8">供的担保抵缴;也可以申请人民法院强制执行</tspan><tspan x="547" dy="16.8">。</tspan></text></g>
<g id="n2-l"><rect class="bx" x="707" y="2015" width="106" height="29" rx="5"/><text class="t" x="717" y="2034">2016年5月25日</text></g>

<g id="n4-a"><rect class="bx" x="537" y="2107" width="276" height="45.6" rx="5"/><text class="t" x="547" y="2126"><tspan x="547">各团总支、团委直属各部门、学生社区团工委</tspan><tspan x="547" dy="16.8">：</tspan></text></g>
<g id="n4-a1"><rect class="bx" x="238" y="2073.4" width="276" height="112.8" rx="5"/><text class="t" x="248" y="2092.4"><tspan x="248">20xx～20xx年度，全院各级团组织和广大团</tspan><tspan x="248" dy="16.8">员青年在学院党委的正确领导下，紧紧围绕学</tspan><tspan x="248" dy="16.8">院的中心工作，开展了一系列主题鲜明、积极</tspan><tspan x="248" dy="16.8">向上、反应我院青年学生良好精神风貌的活动</tspan><tspan x="248" dy="16.8">，有效地推进了共青团的建设，活跃了团的工</tspan><tspan x="248" dy="16.8">作，涌现出了一批先进集体和个人。</tspan></text></g>
<g id="n4-b"><rect class="bx" x="537" y="2309" width="276" height="163.2" rx="5"/><text class="t" x="547" y="2328"><tspan x="547">为表彰先进，树立典型，充分发挥先进集体和</tspan><tspan x="547" dy="16.8">个人的表率作用，促进我院的校风、学风、班</tspan><tspan x="547" dy="16.8">风建设，经基层推荐、民主评选，学院团委研</tspan><tspan x="547" dy="16.8">究决定，授予护理学院团总支为"五四红旗团</tspan><tspan x="547" dy="16.8">总支"、授予经济管理系20xx级会计5班等6个</tspan><tspan x="547" dy="16.8">团支部为"五四红旗团支部"、授予^v^等10名</tspan><tspan x="547" dy="16.8">同学为"优秀共青团员标兵"、授予等49名同</tspan><tspan x="547" dy="16.8">学为"优秀共青团干部"、授予李等50名同学</tspan><tspan x="547" dy="16.8">为"优秀共青团员"具体名单如下：</tspan></text></g>
<g id="n4-b1"><rect class="bx" x="347" y="2215" width="167" height="29" rx="5"/><text class="t" x="357" y="2234">一、  五四红旗团总支(1个)</text></g>
<g id="n4-b2"><rect class="bx" x="347" y="2273" width="167" height="29" rx="5"/><text class="t" x="357" y="2292">二、  五四红旗团支部(6个)</text></g>
<g id="n4-b3"><rect class="bx" x="327" y="2331" width="187" height="29" rx="5"/><text class="t" x="337" y="2350">三、  优秀共青团员标兵(10名)</text></g>
<g id="n4-b4"><rect class="bx" x="340" y="2389" width="174" height="29" rx="5"/><text class="t" x="350" y="2408">四、  优秀共青团干部(49名)</text></g>
<g id="n4-b5"><rect class="bx" x="352" y="2538" width="162" height="29" rx="5"/><text class="t" x="362" y="2557">五、  优秀共青团员(50名)</text></g>
<g id="n4-b5a"><rect class="bx" x="55" y="2448" width="276" height="112.8" rx="5"/><text class="t" x="65" y="2467"><tspan x="65">希望受到表彰的单位和个人珍惜荣誉、发扬成</tspan><tspan x="65" dy="16.8">绩、谦虚谨慎、戒骄戒躁、保持本色、再创佳</tspan><tspan x="65" dy="16.8">绩。学院团委号召全院各级团组织和广大青年</tspan><tspan x="65" dy="16.8">团员向先进学习，团结奋斗，顽强拼搏，开创</tspan><tspan x="65" dy="16.8">我院共青团工作新局面，为建设和谐校园贡献</tspan><tspan x="65" dy="16.8">青春、智慧和力量!</tspan></text></g>
<g id="n4-b5b"><rect class="bx" x="273" y="2589" width="58" height="29" rx="5"/><text class="t" x="283" y="2608">年月日</text></g>

<g id="n6-a"><rect class="bx" x="537" y="2650" width="276" height="45.6" rx="5"/><text class="t r" x="547" y="2669"><tspan x="547">当事人：大荔禧盛棉纺有限公司等731户企业(</tspan><tspan x="547" dy="16.8">名单附后)</tspan></text></g>
<g id="n6-b"><rect class="bx" x="537" y="2723" width="276" height="180" rx="5"/><text class="t r" x="547" y="2742"><tspan x="547">经查明：当事人大荔禧盛棉纺有限责任公司等</tspan><tspan x="547" dy="16.8">192户公司开业后自行停业连续六个月以上;陕</tspan><tspan x="547" dy="16.8">西省农垦科研中心香料试验厂等24户非公司</tspan><tspan x="547" dy="16.8">企业停止经营活动满1年，不按规定办理注销</tspan><tspan x="547" dy="16.8">登记;大荔县果兴化工厂等49户个人独资企业</tspan><tspan x="547" dy="16.8">，开业后自行连续停业六个月以上;大荔县殷</tspan><tspan x="547" dy="16.8">官冷库等466户企业不办理税务登记，经税务</tspan><tspan x="547" dy="16.8">机关提请，由工商行政管理机关吊销其营业执</tspan><tspan x="547" dy="16.8">照。大荔县国家税务局出具了提请吊销营业执</tspan><tspan x="547" dy="16.8">照材料。</tspan></text></g>
<g id="n6-c"><rect class="bx" x="643" y="2941" width="170" height="29" rx="5"/><text class="t r" x="653" y="2960">以上事实，主要证据如下：</text></g>
<g id="n6-c1"><rect class="bx" x="354" y="2932.7" width="265" height="45.6" rx="5"/><text class="t r" x="364" y="2951.7"><tspan x="364">2、大荔县国家税务局出具的提请吊销材料，</tspan><tspan x="364" dy="16.8">证明当事人违法事实。</tspan></text></g>
<g id="n6-c2"><rect class="bx" x="108" y="2941" width="222" height="29" rx="5"/><text class="t r" x="118" y="2960">20XX年4月25日，经本局立案查处。</text></g>

<g id="n8-a"><rect class="bx" x="742" y="3007" width="71" height="29" rx="5"/><text class="t" x="752" y="3026">xx饭店：</text></g>
<g id="n8-b"><rect class="bx" x="537" y="3571" width="276" height="45.6" rx="5"/><text class="t" x="547" y="3590"><tspan x="547">本机关于 200xx年 3 月 20 日查明你(单位)有</tspan><tspan x="547" dy="16.8">下列违法行为：</tspan></text></g>
<g id="n8-b1"><rect class="bx" x="348" y="3064" width="165" height="29" rx="5"/><text class="t" x="358" y="3083">1名厨师未取得健康证明。</text></g>
<g id="n8-b2"><rect class="bx" x="340" y="3122" width="173" height="29" rx="5"/><text class="t" x="350" y="3141">以上行为有  现场检查笔录()</text></g>
<g id="n8-b3"><rect class="bx" x="455" y="3181" width="58" height="29" rx="5"/><text class="t" x="465" y="3200">为证。</text></g>
<g id="n8-b4"><rect class="bx" x="237" y="3238" width="276" height="45.6" rx="5"/><text class="t" x="247" y="3257"><tspan x="247">上述行为已违反了  《^v^食品卫生法》第二十</tspan><tspan x="247" dy="16.8">六条第一款</tspan></text></g>
<g id="n8-b5"><rect class="bx" x="237" y="3313" width="276" height="45.6" rx="5"/><text class="t" x="247" y="3332"><tspan x="247">的规定，现依据  《^v^食品卫生法》第四十七</tspan><tspan x="247" dy="16.8">条之规定，  决定予以你(单位) 800元</tspan></text></g>
<g id="n8-b6"><rect class="bx" x="237" y="3387" width="276" height="45.6" rx="5"/><text class="t" x="247" y="3406"><tspan x="247">的行政处罚。同时责令  立即  改正违法行为</tspan><tspan x="247" dy="16.8">。</tspan></text></g>
<g id="n8-b7"><rect class="bx" x="237" y="3462" width="276" height="45.6" rx="5"/><text class="t" x="247" y="3481"><tspan x="247">罚款于收到本决定书之日起十五日内缴至  xx</tspan><tspan x="247" dy="16.8">银行。</tspan></text></g>
<g id="n8-b8"><rect class="bx" x="400" y="3538" width="113" height="29" rx="5"/><text class="t" x="410" y="3557">地址   xxx路xx号</text></g>
<g id="n8-b9"><rect class="bx" x="237" y="3596" width="276" height="62.4" rx="5"/><text class="t" x="247" y="3615"><tspan x="247">逾期不缴纳罚款的，依据《行政处罚法》第五</tspan><tspan x="247" dy="16.8">十一条第(一)项规定，每日按罚款数额的3%</tspan><tspan x="247" dy="16.8">加处罚款。</tspan></text></g>
<g id="n8-b10"><rect class="bx" x="237" y="3687" width="276" height="45.6" rx="5"/><text class="t" x="247" y="3706"><tspan x="247">如不服本处罚决定，可在收到本处罚决定书之</tspan><tspan x="247" dy="16.8">日起60日内向  北京市卫生局</tspan></text></g>
<g id="n8-b11"><rect class="bx" x="237" y="3762" width="276" height="96" rx="5"/><text class="t" x="247" y="3781"><tspan x="247">或  海淀区  人民政府申请行政复议，或 15 内</tspan><tspan x="247" dy="16.8">向  海淀区人民法院起诉，但不得停止执行本</tspan><tspan x="247" dy="16.8">处罚决定。逾期不申请行政复议也不向人民法</tspan><tspan x="247" dy="16.8">院起诉，又不履行处罚决定的，本机关将依法</tspan><tspan x="247" dy="16.8">申请人民法院强制执行。</tspan></text></g>
<g id="n8-b12"><rect class="bx" x="237" y="3887" width="276" height="45.6" rx="5"/><text class="t" x="247" y="3906"><tspan x="247">本决定书于 20xx年 3 月 20 日 收到，卫生</tspan><tspan x="247" dy="16.8">监督员签名 丁xx  王xx</tspan></text></g>
<g id="n8-b13"><rect class="bx" x="237" y="3962" width="276" height="45.6" rx="5"/><text class="t" x="247" y="3981"><tspan x="247">卫生监督员在处罚前已向我(单位)告知了   3月</tspan><tspan x="247" dy="16.8">20日的权利，并听取了我的陈述和申辩。</tspan></text></g>
<g id="n8-b14"><rect class="bx" x="241" y="4037" width="272" height="29" rx="5"/><text class="t" x="251" y="4056">当事人签收：  徐xx 卫生行政机关名称并盖章</text></g>
<g id="n8-b15"><rect class="bx" x="366" y="4094" width="147" height="29" rx="5"/><text class="t" x="376" y="4113">年3月20 日  年3月20日</text></g>

<g id="watermarks">
<text class="wm" x="640" y="555" transform="rotate(-30 640 520)">树图 shutu.cn</text>
<text class="wm" x="1925" y="555" transform="rotate(-30 1925 520)">树图 shutu.cn</text>
<text class="wm" x="640" y="1555" transform="rotate(-30 640 1520)">树图 shutu.cn</text>
<text class="wm" x="1925" y="1555" transform="rotate(-30 1925 1520)">树图 shutu.cn</text>
<text class="wm" x="640" y="2565" transform="rotate(-30 640 2530)">树图 shutu.cn</text>
<text class="wm" x="1925" y="2565" transform="rotate(-30 1925 2530)">树图 shutu.cn</text>
<text class="wm" x="620" y="3525" transform="rotate(-30 620 3490)">树图 shutu.cn</text>
<text class="wm" x="1925" y="3525" transform="rotate(-30 1925 3490)">树图 shutu.cn</text>
<text class="wm" x="1925" y="4515" transform="rotate(-30 1925 4480)">树图 shutu.cn</text>
</g>
</g>
</svg>
